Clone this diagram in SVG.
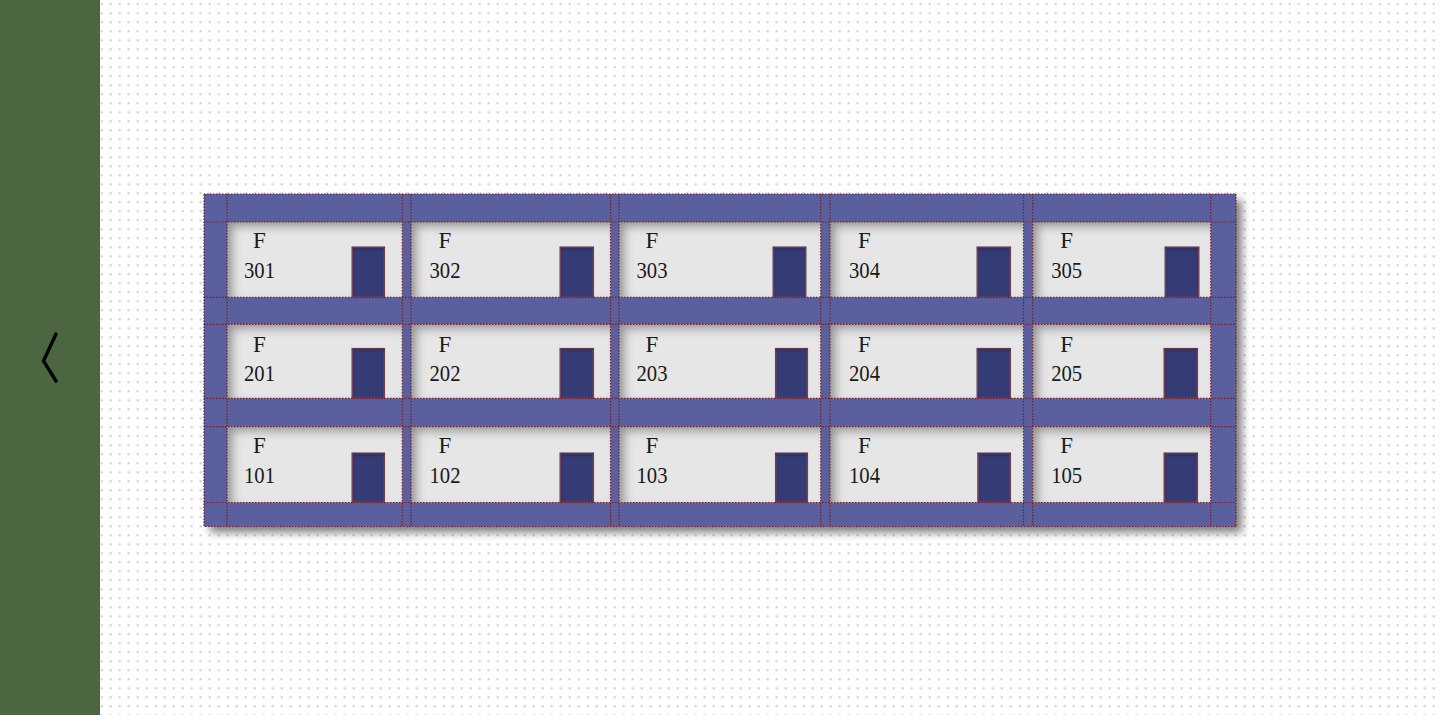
<svg xmlns="http://www.w3.org/2000/svg" width="1440" height="715" viewBox="0 0 1440 715">
  <defs>
    <pattern id="dots" patternUnits="userSpaceOnUse" x="100" y="0" width="9" height="9">
      <circle cx="1.7" cy="4.3" r="1.2" fill="#d6d6d6"/>
    </pattern>
    <filter id="drop" x="-5%" y="-5%" width="112%" height="115%">
      <feGaussianBlur in="SourceAlpha" stdDeviation="4"/>
      <feOffset dx="6" dy="6" result="o"/>
      <feComponentTransfer in="o" result="s"><feFuncA type="linear" slope="0.5"/></feComponentTransfer>
      <feMerge><feMergeNode in="s"/><feMergeNode in="SourceGraphic"/></feMerge>
    </filter>
    <filter id="inset" x="-20%" y="-40%" width="140%" height="180%">
      <feFlood flood-color="#000" flood-opacity="0.62" result="c"/>
      <feComposite in="c" in2="SourceAlpha" operator="out" result="inv"/>
      <feGaussianBlur in="inv" stdDeviation="5" result="b"/>
      <feOffset in="b" dx="6" dy="5" result="o"/>
      <feComposite in="o" in2="SourceAlpha" operator="in" result="sh"/>
      <feMerge><feMergeNode in="SourceGraphic"/><feMergeNode in="sh"/></feMerge>
    </filter>
    <filter id="doorin" x="-20%" y="-20%" width="140%" height="140%">
      <feFlood flood-color="#000" flood-opacity="0.5" result="c"/>
      <feComposite in="c" in2="SourceAlpha" operator="out" result="inv"/>
      <feGaussianBlur in="inv" stdDeviation="1.5" result="b"/>
      <feOffset in="b" dx="0" dy="2" result="o"/>
      <feComposite in="o" in2="SourceAlpha" operator="in" result="sh"/>
      <feMerge><feMergeNode in="SourceGraphic"/><feMergeNode in="sh"/></feMerge>
    </filter>
  </defs>
  <style>
    .room { fill: #e6e6e6; filter: url(#inset); }
    .door { fill: #343a75; stroke: #80495f; stroke-width: 1.5; filter: url(#doorin); }
    .lbl { font-family: "Liberation Serif", "Times New Roman", serif; font-size: 23px; fill: #1a1a1a; text-anchor: middle; }
    .grid line, .grid rect { stroke: #7a1c26; stroke-width: 1.2; stroke-dasharray: 1.5 1.5; fill: none; }
  </style>

  <rect x="0" y="0" width="1440" height="715" fill="#ffffff"/>
  <rect x="100" y="0" width="1340" height="715" fill="url(#dots)"/>

  <g id="sidebar">
    <rect x="0" y="0" width="100" height="715" fill="#4b6640"/>
    <polyline points="56,334 43.5,361 56,381" fill="none" stroke="#000" stroke-width="3.4" stroke-linecap="round" stroke-linejoin="miter"/>
  </g>

  <g id="building">
    <rect x="204" y="194" width="1032" height="332.5" fill="#5a5e9e" filter="url(#drop)"/>
  </g>

  <g id="floor-3">
    <g id="room-301"><rect class="room" x="227" y="222" width="175.3" height="75.3"/><rect class="door" x="352.3" y="247.3" width="32" height="50"/><text class="lbl" x="259.5" y="248">F</text><text class="lbl" x="259.5" y="278.3" textLength="31" lengthAdjust="spacingAndGlyphs">301</text></g>
    <g id="room-302"><rect class="room" x="411" y="222" width="199.5" height="75.3"/><rect class="door" x="560.3" y="247.3" width="33" height="50"/><text class="lbl" x="445" y="248">F</text><text class="lbl" x="445" y="278.3" textLength="31" lengthAdjust="spacingAndGlyphs">302</text></g>
    <g id="room-303"><rect class="room" x="619" y="222" width="201.7" height="75.3"/><rect class="door" x="773.3" y="247.3" width="32.4" height="50"/><text class="lbl" x="652" y="248">F</text><text class="lbl" x="652" y="278.3" textLength="31" lengthAdjust="spacingAndGlyphs">303</text></g>
    <g id="room-304"><rect class="room" x="830" y="222" width="193.5" height="75.3"/><rect class="door" x="977.3" y="247.3" width="33" height="50"/><text class="lbl" x="864.5" y="248">F</text><text class="lbl" x="864.5" y="278.3" textLength="31" lengthAdjust="spacingAndGlyphs">304</text></g>
    <g id="room-305"><rect class="room" x="1032.7" y="222" width="178" height="75.3"/><rect class="door" x="1165.3" y="247.3" width="33.4" height="50"/><text class="lbl" x="1066.7" y="248">F</text><text class="lbl" x="1066.7" y="278.3" textLength="31" lengthAdjust="spacingAndGlyphs">305</text></g>
  </g>

  <g id="floor-2">
    <g id="room-201"><rect class="room" x="227" y="324.3" width="175.3" height="74"/><rect class="door" x="352.3" y="348.7" width="32" height="49.6"/><text class="lbl" x="259.5" y="351.6">F</text><text class="lbl" x="259.5" y="380.7" textLength="31" lengthAdjust="spacingAndGlyphs">201</text></g>
    <g id="room-202"><rect class="room" x="411" y="324.3" width="199.5" height="74"/><rect class="door" x="560.3" y="348.7" width="33" height="49.6"/><text class="lbl" x="445" y="351.6">F</text><text class="lbl" x="445" y="380.7" textLength="31" lengthAdjust="spacingAndGlyphs">202</text></g>
    <g id="room-203"><rect class="room" x="619" y="324.3" width="201.7" height="74"/><rect class="door" x="775.7" y="348.7" width="31.6" height="49.6"/><text class="lbl" x="652" y="351.6">F</text><text class="lbl" x="652" y="380.7" textLength="31" lengthAdjust="spacingAndGlyphs">203</text></g>
    <g id="room-204"><rect class="room" x="830" y="324.3" width="193.5" height="74"/><rect class="door" x="977.3" y="348.7" width="33" height="49.6"/><text class="lbl" x="864.5" y="351.6">F</text><text class="lbl" x="864.5" y="380.7" textLength="31" lengthAdjust="spacingAndGlyphs">204</text></g>
    <g id="room-205"><rect class="room" x="1032.7" y="324.3" width="178" height="74"/><rect class="door" x="1164.3" y="348.7" width="33" height="49.6"/><text class="lbl" x="1066.7" y="351.6">F</text><text class="lbl" x="1066.7" y="380.7" textLength="31" lengthAdjust="spacingAndGlyphs">205</text></g>
  </g>

  <g id="floor-1">
    <g id="room-101"><rect class="room" x="227" y="426.7" width="175.3" height="75.8"/><rect class="door" x="352.3" y="453.3" width="32" height="49.2"/><text class="lbl" x="259.5" y="453.4">F</text><text class="lbl" x="259.5" y="482.7" textLength="31" lengthAdjust="spacingAndGlyphs">101</text></g>
    <g id="room-102"><rect class="room" x="411" y="426.7" width="199.5" height="75.8"/><rect class="door" x="560.3" y="453.3" width="33" height="49.2"/><text class="lbl" x="445" y="453.4">F</text><text class="lbl" x="445" y="482.7" textLength="31" lengthAdjust="spacingAndGlyphs">102</text></g>
    <g id="room-103"><rect class="room" x="619" y="426.7" width="201.7" height="75.8"/><rect class="door" x="775.7" y="453.3" width="31.6" height="49.2"/><text class="lbl" x="652" y="453.4">F</text><text class="lbl" x="652" y="482.7" textLength="31" lengthAdjust="spacingAndGlyphs">103</text></g>
    <g id="room-104"><rect class="room" x="830" y="426.7" width="193.5" height="75.8"/><rect class="door" x="978" y="453.3" width="32.3" height="49.2"/><text class="lbl" x="864.5" y="453.4">F</text><text class="lbl" x="864.5" y="482.7" textLength="31" lengthAdjust="spacingAndGlyphs">104</text></g>
    <g id="room-105"><rect class="room" x="1032.7" y="426.7" width="178" height="75.8"/><rect class="door" x="1164.3" y="453.3" width="33" height="49.2"/><text class="lbl" x="1066.7" y="453.4">F</text><text class="lbl" x="1066.7" y="482.7" textLength="31" lengthAdjust="spacingAndGlyphs">105</text></g>
  </g>

  <g id="grid-lines" class="grid">
    <rect x="204" y="194" width="1032" height="332.5"/>
    <line x1="227" y1="194" x2="227" y2="526.5"/>
    <line x1="402.3" y1="194" x2="402.3" y2="526.5"/>
    <line x1="411" y1="194" x2="411" y2="526.5"/>
    <line x1="610.5" y1="194" x2="610.5" y2="526.5"/>
    <line x1="619" y1="194" x2="619" y2="526.5"/>
    <line x1="820.7" y1="194" x2="820.7" y2="526.5"/>
    <line x1="830" y1="194" x2="830" y2="526.5"/>
    <line x1="1023.5" y1="194" x2="1023.5" y2="526.5"/>
    <line x1="1032.7" y1="194" x2="1032.7" y2="526.5"/>
    <line x1="1210.7" y1="194" x2="1210.7" y2="526.5"/>
    <line x1="204" y1="222" x2="1236" y2="222"/>
    <line x1="204" y1="297.3" x2="1236" y2="297.3"/>
    <line x1="204" y1="324.3" x2="1236" y2="324.3"/>
    <line x1="204" y1="398.3" x2="1236" y2="398.3"/>
    <line x1="204" y1="426.7" x2="1236" y2="426.7"/>
    <line x1="204" y1="502.5" x2="1236" y2="502.5"/>
  </g>
</svg>
